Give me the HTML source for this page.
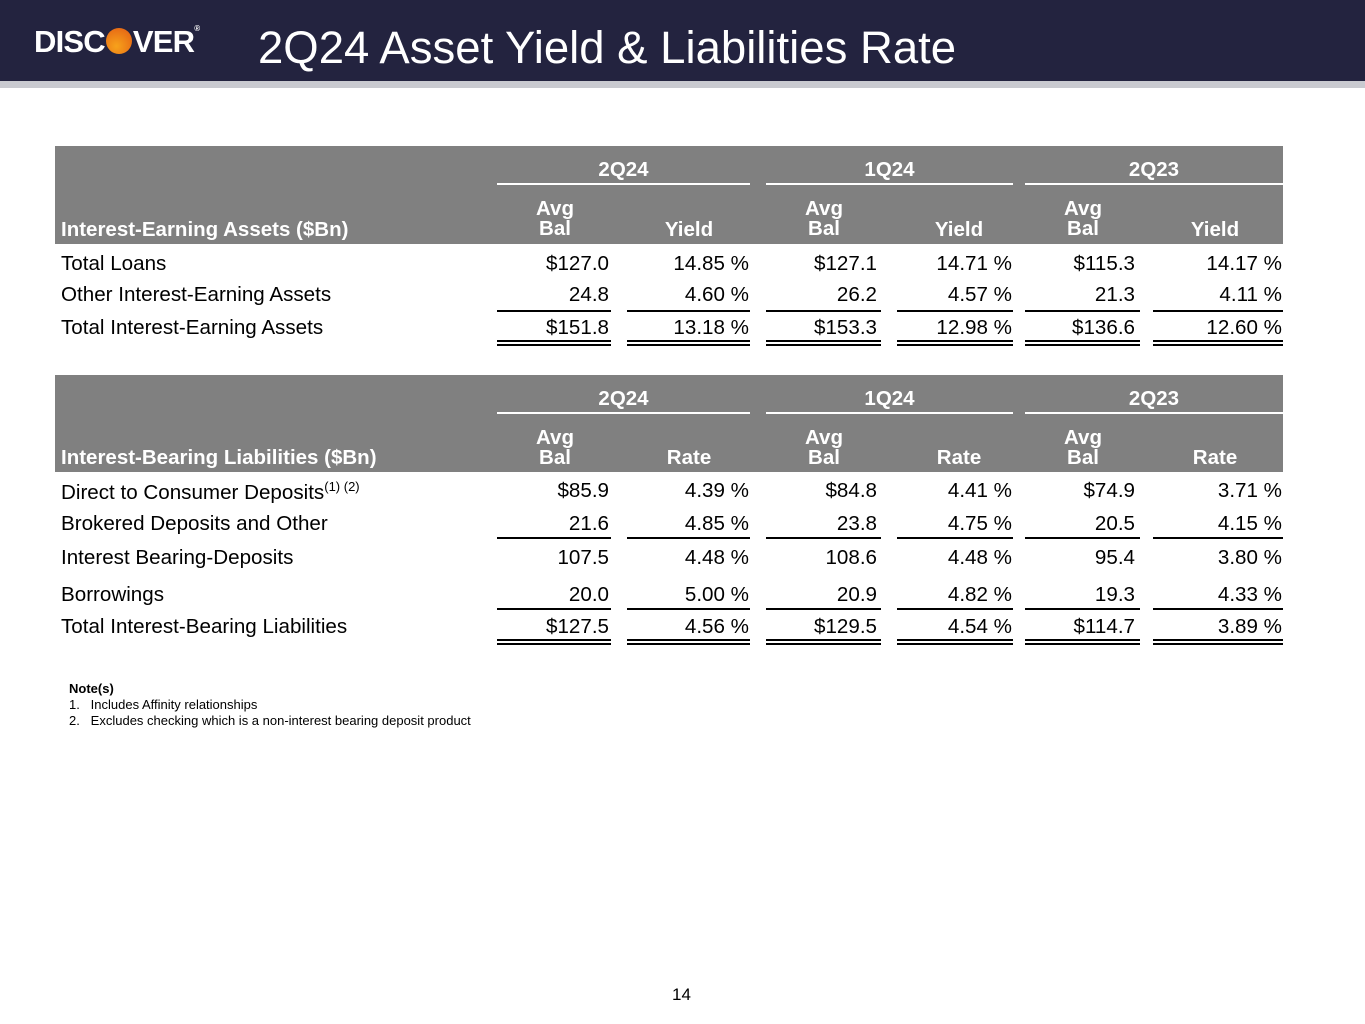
<!DOCTYPE html>
<html><head><meta charset="utf-8">
<style>
*{margin:0;padding:0;box-sizing:border-box}
body{width:1365px;height:1024px;background:#fff;position:relative;overflow:hidden;font-family:"Liberation Sans",Arial,sans-serif;color:#000}
.a{position:absolute;white-space:nowrap}
.hdr{position:absolute;background:#808080}
.w{color:#fff;font-weight:bold;font-size:20.5px}
.c{font-size:20.6px}
.ln{position:absolute;height:2px;background:#000}
.wl{position:absolute;height:2px;background:#fff}
</style></head>
<body>
<div class="a" style="left:0;top:0;width:1365px;height:81px;background:#23233f"></div>
<div class="a" style="left:0;top:81px;width:1365px;height:7px;background:#c9cad0"></div>
<div class="a" style="left:34px;top:24px;font-size:31px;font-weight:bold;color:#fff;letter-spacing:-0.8px">DISC<span style="display:inline-block;width:26px;height:26px;border-radius:50%;background:radial-gradient(circle at 40% 70%,#f7a21b,#e35b13);vertical-align:-2px;margin:0 1px"></span>VER<span style="font-size:8px;vertical-align:top">®</span></div>
<div class="a" style="left:258px;top:22px;font-size:45.5px;color:#fff">2Q24 Asset Yield &amp; Liabilities Rate</div>
<div id="root"></div>
<div class="a" style="left:69px;top:681px;font-size:13px;line-height:16px">
<b>Note(s)</b><br>1.&nbsp;&nbsp; Includes Affinity relationships<br>2.&nbsp;&nbsp; Excludes checking which is a non-interest bearing deposit product</div>
<div class="a" style="left:672px;top:985px;font-size:17px">14</div>
<script>
const quarters=["2Q24","1Q24","2Q23"];
const assetLabels=["Total Loans","Other Interest-Earning Assets","Total Interest-Earning Assets"];
const assetBal=[["$127.0","24.8","$151.8"],["$127.1","26.2","$153.3"],["$115.3","21.3","$136.6"]];
const assetYield=[["14.85 %","4.60 %","13.18 %"],["14.71 %","4.57 %","12.98 %"],["14.17 %","4.11 %","12.60 %"]];
const liabLabels=["Direct to Consumer Deposits","Brokered Deposits and Other","Interest Bearing-Deposits","Borrowings","Total Interest-Bearing Liabilities"];
const liabBal=[["$85.9","21.6","107.5","20.0","$127.5"],["$84.8","23.8","108.6","20.9","$129.5"],["$74.9","20.5","95.4","19.3","$114.7"]];
const liabRate=[["4.39 %","4.85 %","4.48 %","5.00 %","4.56 %"],["4.41 %","4.75 %","4.48 %","4.82 %","4.54 %"],["3.71 %","4.15 %","3.80 %","4.33 %","3.89 %"]];
const root=document.getElementById('root');
const balSeg=[[497,611],[766,881],[1025,1140]];
const balRight=[609,877,1135];
const rateSeg=[[627,750],[897,1013],[1153,1283]];
function el(cls,style,html){const d=document.createElement('div');d.className=cls;d.style.cssText=style;if(html!==undefined)d.innerHTML=html;root.appendChild(d);return d;}
function table(top,hbottom,title,rateName,labels,bal,rate,rowY,singles,dbl){
  const h=el('hdr',`left:55px;top:${top}px;width:1228px;height:${hbottom-top}px`);
  
  
  const t=el('a w',`left:61px;top:${hbottom-26}px`,title);
  
  
  quarters.forEach((q,i)=>{
    const l=balSeg[i][0],r=rateSeg[i][1];
    const qd=el('a w',`left:${l}px;width:${r-l}px;text-align:center;top:${top+12}px`,q);
    
    
    el('wl',`left:${l}px;width:${r-l}px;top:${top+37}px`);
    const ab=el('a w',`left:${balSeg[i][0]+28}px;width:60px;text-align:center;top:${top+53}px;line-height:20px`,'Avg<br>Bal');
    
    
    const rd=el('a w',`left:${rateSeg[i][0]+22}px;width:80px;text-align:center;top:${hbottom-26}px`,rateName);
    
    
  });
  labels.forEach((lab,j)=>{
    const y=rowY[j];
    const ld=el('a c',`left:61px;top:${y-12}px`,lab+(j===0&&rateName==='Rate'?'<sup style="font-size:13px;vertical-align:8px">(1) (2)</sup>':''));
    
    
    quarters.forEach((q,i)=>{
      const b=el('a c',`right:${1365-balRight[i]}px;top:${y-12}px`,bal[i][j]);
      
      
      const r=el('a c',`right:${1365-rateSeg[i][1]+1}px;top:${y-12}px`,rate[i][j]);
      
      
    });
  });
  [...balSeg,...rateSeg].forEach(s=>{
    singles.forEach(y=>el('ln',`left:${s[0]}px;width:${s[1]-s[0]}px;top:${y}px`));
    el('ln',`left:${s[0]}px;width:${s[1]-s[0]}px;top:${dbl}px`);
    el('ln',`left:${s[0]}px;width:${s[1]-s[0]}px;top:${dbl+4}px`);
  });
}
table(146,244,'Interest-Earning Assets ($Bn)','Yield',assetLabels,assetBal,assetYield,[264,295,328],[310],340);
table(375,472,'Interest-Bearing Liabilities ($Bn)','Rate',liabLabels,liabBal,liabRate,[491,524,558,595,627],[537,608],639);
</script>
</body></html>
